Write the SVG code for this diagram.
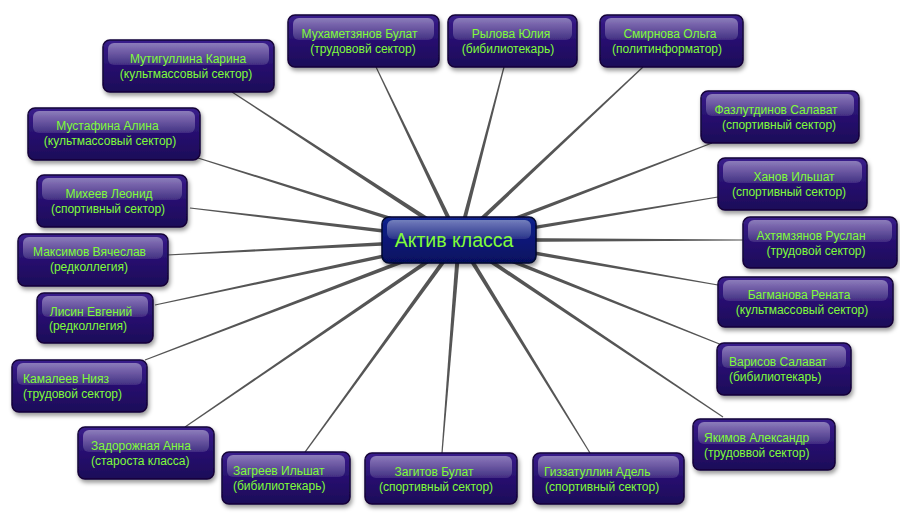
<svg xmlns="http://www.w3.org/2000/svg" width="900" height="513" viewBox="0 0 900 513">
<defs>
<linearGradient id="ng" x1="0" y1="0" x2="0" y2="1">
<stop offset="0" stop-color="#3a1d8c"/><stop offset="0.5" stop-color="#27106f"/><stop offset="1" stop-color="#1c0858"/>
</linearGradient>
<linearGradient id="cg" x1="0" y1="0" x2="0" y2="1">
<stop offset="0" stop-color="#12228e"/><stop offset="0.5" stop-color="#0a1878"/><stop offset="1" stop-color="#06105e"/>
</linearGradient>
<linearGradient id="hl" x1="0" y1="0" x2="0" y2="1">
<stop offset="0" stop-color="#ffffff" stop-opacity="0.42"/><stop offset="1" stop-color="#ffffff" stop-opacity="0.12"/>
</linearGradient>
<filter id="sh" x="-10%" y="-10%" width="125%" height="140%">
<feDropShadow dx="1.5" dy="3" stdDeviation="2" flood-color="#000" flood-opacity="0.4"/>
</filter>
</defs>
<style>
.box{fill:url(#ng);stroke:#150638;stroke-width:1.5;filter:url(#sh)}
.cbox{fill:url(#cg);stroke:#05082e;stroke-width:1.5;filter:url(#sh)}
.hl{fill:url(#hl)}
.t{font-family:"Liberation Sans",Arial,sans-serif;font-size:12px;fill:#80fc3a}
.m{text-anchor:middle}
.ct{font-family:"Liberation Sans",Arial,sans-serif;font-size:19.5px;fill:#80fc3a;text-anchor:middle}
.c{fill:#555}
</style>
<rect width="900" height="513" fill="#fff"/>
<g id="connectors">
<polygon class="c" points="460.4,237.9 232.3,91.5 231.7,92.5 457.6,242.1"/>
<polygon class="c" points="461.0,239.1 376.5,66.7 375.5,67.3 457.0,241.0"/>
<polygon class="c" points="461.1,240.6 504.6,67.2 503.4,66.8 456.9,239.4"/>
<polygon class="c" points="460.5,241.6 643.4,67.4 642.6,66.6 457.5,238.4"/>
<polygon class="c" points="459.8,242.1 712.2,143.6 711.8,142.4 458.2,238.0"/>
<polygon class="c" points="459.4,242.2 718.1,197.6 717.9,196.4 458.6,237.8"/>
<polygon class="c" points="459,242.2 743,240.6 743,239.4 459,237.8"/>
<polygon class="c" points="458.6,242.2 717.9,285.6 718.1,284.4 459.4,237.8"/>
<polygon class="c" points="458.2,242.0 721.8,345.6 722.2,344.4 459.8,238.0"/>
<polygon class="c" points="457.8,241.8 722.7,417.5 723.3,416.5 460.2,238.2"/>
<polygon class="c" points="457.1,241.2 589.5,453.3 590.5,452.7 460.9,238.9"/>
<polygon class="c" points="456.8,239.8 441.4,453.0 442.6,453.0 461.2,240.2"/>
<polygon class="c" points="457.2,238.7 304.5,451.7 305.5,452.4 460.8,241.3"/>
<polygon class="c" points="457.8,238.2 184.7,426.5 185.3,427.5 460.2,241.8"/>
<polygon class="c" points="458.2,237.9 144.8,359.4 145.2,360.6 459.8,242.1"/>
<polygon class="c" points="458.5,237.9 154.9,304.4 155.1,305.6 459.5,242.1"/>
<polygon class="c" points="458.9,237.8 167.0,254.4 167.0,255.6 459.1,242.2"/>
<polygon class="c" points="459.3,237.8 190.1,207.4 189.9,208.6 458.7,242.2"/>
<polygon class="c" points="459.7,237.9 198.2,157.4 197.8,158.6 458.3,242.1"/>
</g>
<g id="center">
<rect class="cbox" x="382" y="217" width="154" height="46" rx="7"/>
<rect class="hl" x="387" y="220" width="144" height="19" rx="6"/>
<text class="ct" x="454" y="247">Актив класса</text>
</g>
<g id="n1">
<rect class="box" x="103" y="40" width="171" height="52" rx="7"/>
<rect class="hl" x="108" y="43" width="161" height="22" rx="6"/>
<text class="t m" x="188" y="63">Мутигуллина Карина</text>
<text class="t m" x="186" y="78">(культмассовый сектор)</text>
</g>
<g id="n2">
<rect class="box" x="288" y="15" width="151" height="52" rx="7"/>
<rect class="hl" x="293" y="18" width="141" height="22" rx="6"/>
<text class="t m" x="359.5" y="38">Мухаметзянов Булат</text>
<text class="t m" x="363" y="53">(трудововй сектор)</text>
</g>
<g id="n3">
<rect class="box" x="448" y="15" width="129" height="52" rx="7"/>
<rect class="hl" x="453" y="18" width="119" height="22" rx="6"/>
<text class="t m" x="511" y="38">Рылова Юлия</text>
<text class="t m" x="508" y="53">(бибилиотекарь)</text>
</g>
<g id="n4">
<rect class="box" x="600" y="15" width="143" height="52" rx="7"/>
<rect class="hl" x="605" y="18" width="133" height="22" rx="6"/>
<text class="t m" x="670" y="38">Смирнова Ольга</text>
<text class="t m" x="667" y="53">(политинформатор)</text>
</g>
<g id="n5">
<rect class="box" x="701" y="91" width="158" height="52" rx="7"/>
<rect class="hl" x="706" y="94" width="148" height="22" rx="6"/>
<text class="t m" x="776" y="114">Фазлутдинов Салават</text>
<text class="t m" x="779" y="129">(спортивный сектор)</text>
</g>
<g id="n6">
<rect class="box" x="718" y="158" width="149" height="52" rx="7"/>
<rect class="hl" x="723" y="161" width="139" height="22" rx="6"/>
<text class="t m" x="794" y="181">Ханов Ильшат</text>
<text class="t m" x="789" y="196">(спортивный сектор)</text>
</g>
<g id="n7">
<rect class="box" x="743" y="217" width="154" height="51" rx="7"/>
<rect class="hl" x="748" y="220" width="144" height="22" rx="6"/>
<text class="t m" x="811" y="240">Ахтямзянов Руслан</text>
<text class="t m" x="816" y="255">(трудовой сектор)</text>
</g>
<g id="n8">
<rect class="box" x="718" y="277" width="175" height="50" rx="7"/>
<rect class="hl" x="723" y="280" width="165" height="21" rx="6"/>
<text class="t m" x="799" y="299">Багманова Рената</text>
<text class="t m" x="802" y="314">(культмассовый сектор)</text>
</g>
<g id="n9">
<rect class="box" x="717" y="343" width="134" height="52" rx="7"/>
<rect class="hl" x="722" y="346" width="124" height="22" rx="6"/>
<text class="t" x="729" y="366">Варисов Салават</text>
<text class="t" x="729" y="381">(бибилиотекарь)</text>
</g>
<g id="n10">
<rect class="box" x="693" y="419" width="142" height="51" rx="7"/>
<rect class="hl" x="698" y="422" width="132" height="22" rx="6"/>
<text class="t" x="704" y="442">Якимов Александр</text>
<text class="t" x="704" y="457">(трудоввой сектор)</text>
</g>
<g id="n11">
<rect class="box" x="533" y="453" width="151" height="51" rx="7"/>
<rect class="hl" x="538" y="456" width="141" height="22" rx="6"/>
<text class="t" x="544" y="476">Гиззатуллин Адель</text>
<text class="t" x="545" y="491">(спортивный сектор)</text>
</g>
<g id="n12">
<rect class="box" x="365" y="453" width="152" height="51" rx="7"/>
<rect class="hl" x="370" y="456" width="142" height="22" rx="6"/>
<text class="t m" x="434" y="476">Загитов Булат</text>
<text class="t m" x="436" y="491">(спортивный сектор)</text>
</g>
<g id="n13">
<rect class="box" x="222" y="452" width="128" height="52" rx="7"/>
<rect class="hl" x="227" y="455" width="118" height="22" rx="6"/>
<text class="t" x="233" y="475">Загреев Ильшат</text>
<text class="t" x="233" y="490">(бибилиотекарь)</text>
</g>
<g id="n14">
<rect class="box" x="78" y="427" width="136" height="52" rx="7"/>
<rect class="hl" x="83" y="430" width="126" height="22" rx="6"/>
<text class="t" x="91" y="450">Задорожная Анна</text>
<text class="t" x="91" y="465">(староста класса)</text>
</g>
<g id="n15">
<rect class="box" x="12" y="360" width="135" height="52" rx="7"/>
<rect class="hl" x="17" y="363" width="125" height="22" rx="6"/>
<text class="t" x="23" y="383">Камалеев Нияз</text>
<text class="t" x="23" y="398">(трудовой сектор)</text>
</g>
<g id="n16">
<rect class="box" x="37" y="293" width="116" height="50" rx="7"/>
<rect class="hl" x="42" y="296" width="106" height="21" rx="6"/>
<text class="t m" x="91" y="316">Лисин Евгений</text>
<text class="t m" x="88" y="330">(редколлегия)</text>
</g>
<g id="n17">
<rect class="box" x="18" y="234" width="150" height="52" rx="7"/>
<rect class="hl" x="23" y="237" width="140" height="22" rx="6"/>
<text class="t m" x="89.5" y="256">Максимов Вячеслав</text>
<text class="t m" x="89" y="271">(редколлегия)</text>
</g>
<g id="n18">
<rect class="box" x="37" y="175" width="150" height="52" rx="7"/>
<rect class="hl" x="42" y="178" width="140" height="22" rx="6"/>
<text class="t m" x="109" y="198">Михеев Леонид</text>
<text class="t m" x="108" y="213">(спортивный сектор)</text>
</g>
<g id="n19">
<rect class="box" x="28" y="108" width="172" height="52" rx="7"/>
<rect class="hl" x="33" y="111" width="162" height="22" rx="6"/>
<text class="t m" x="107.5" y="130">Мустафина Алина</text>
<text class="t m" x="110" y="145">(культмассовый сектор)</text>
</g>
</svg>
